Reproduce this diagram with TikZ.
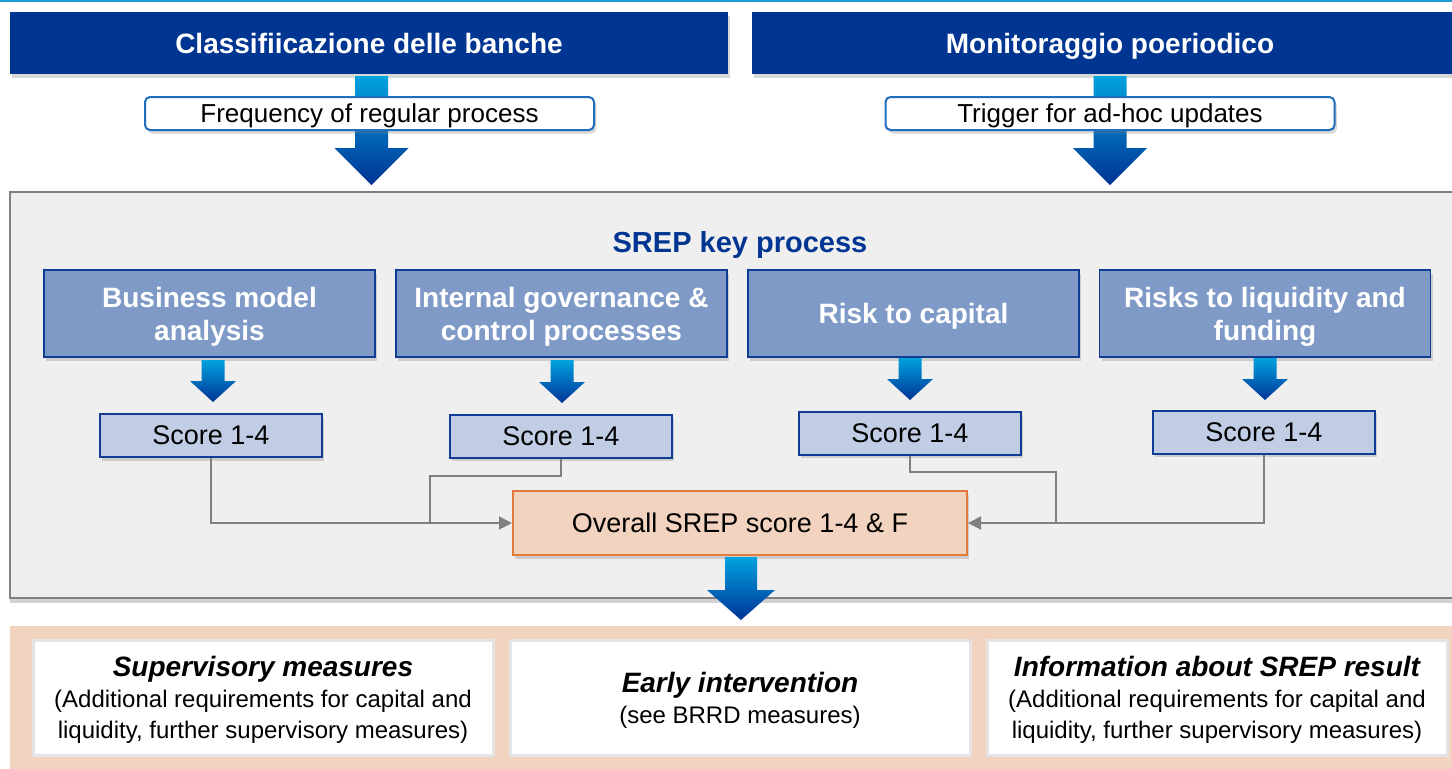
\documentclass[tikz,border=0pt]{standalone}
\usepackage{fontspec}
\setmainfont{Liberation Sans}
\usetikzlibrary{shadows,calc,arrows.meta}
\definecolor{hdrblue}{RGB}{0,53,145}
\definecolor{boxblue}{RGB}{127,154,199}
\definecolor{boxedge}{RGB}{16,60,150}
\definecolor{scorefill}{RGB}{192,205,229}
\definecolor{panelfill}{RGB}{239,239,239}
\definecolor{paneledge}{RGB}{128,128,128}
\definecolor{peach}{RGB}{242,211,191}
\definecolor{orangeedge}{RGB}{224,123,57}
\definecolor{conn}{RGB}{128,128,128}
\definecolor{topline}{RGB}{30,155,215}
\definecolor{arrtop}{RGB}{0,162,224}
\definecolor{arrbot}{RGB}{0,51,150}
\definecolor{freqedge}{RGB}{30,110,190}
\definecolor{wedge}{RGB}{228,228,228}
\tikzset{
  shad/.style={drop shadow={opacity=0.3,shadow xshift=1.2pt,shadow yshift=-1.8pt}},
  header/.style={fill=hdrblue,draw=none,text=white,font=\fontsize{14}{17}\selectfont\bfseries,shad,minimum height=31pt,inner sep=0pt,text depth=0pt},
  freqbox/.style={fill=white,draw=freqedge,line width=1pt,rounded corners=2.5pt,minimum width=224.5pt,minimum height=16.5pt,font=\fontsize{13}{15}\selectfont,inner sep=0pt,text depth=0pt,shad},
  keybox/.style={fill=boxblue,draw=boxedge,line width=0.6pt,text=white,font=\fontsize{14}{16.5}\selectfont\bfseries,align=center,minimum width=165.5pt,minimum height=43.5pt,inner sep=0pt,text depth=0pt,shad},
  scorebox/.style={fill=scorefill,draw=boxedge,line width=1pt,font=\fontsize{13.5}{16}\selectfont,minimum width=111pt,minimum height=21.5pt,inner sep=0pt,shad},
  overallbox/.style={fill=peach,draw=orangeedge,line width=1pt,font=\fontsize{13.5}{16}\selectfont,minimum width=227pt,minimum height=32pt,inner sep=0pt,shad},
  resultbox/.style={fill=white,draw=wedge,line width=1.5pt,font=\fontsize{12}{15.5}\selectfont,align=center,minimum width=230pt,minimum height=57.5pt,inner sep=0pt,text depth=0pt},
  conline/.style={draw=conn,line width=1pt},
  conarrow/.style={conline,-{Triangle[length=6.5pt,width=6.5pt]}},
  barrow/.style={top color=arrtop,bottom color=arrbot,draw=none}
}
% block arrow: center x, top y, head y, tip y, stem half width, head half width
\newcommand\blockarrow[6]{%
  \shade[barrow] (#1-#5,#2) -- (#1+#5,#2) -- (#1+#5,#3) -- (#1+#6,#3) -- (#1,#4) -- (#1-#6,#3) -- (#1-#5,#3) -- cycle;}
\begin{document}
\begin{tikzpicture}[x=0.5pt,y=-0.5pt]
\useasboundingbox (0,0) rectangle (1452,768);
\fill[white] (0,0) rectangle (1452,768);
\draw[topline,line width=1pt] (0,1) -- (1452,1);

% headers
\node[header,minimum width=359pt] (h1) at (369,43) {Classifiicazione delle banche};
\node[header,minimum width=358pt] (h2) at (1110,43) {Monitoraggio poeriodico};

% top arrows
\blockarrow{371.5}{76}{148}{185}{16.5}{37}
\blockarrow{1110}{76}{148}{185}{16.5}{37}
\node[freqbox] (f1) at (369.5,113.5) {Frequency of regular process};
\node[freqbox] (f2) at (1110,113.5) {Trigger for ad-hoc updates};

% SREP panel
\draw[fill=panelfill,draw=paneledge,line width=1pt,drop shadow={opacity=0.35,shadow xshift=0pt,shadow yshift=-2.5pt}] (10,192) rectangle (1480,598);
\node[text=hdrblue,font=\fontsize{14.5}{17}\selectfont\bfseries,text depth=0pt] (title) at (740,242) {SREP key process};

\node[keybox] (b1) at (209.5,313.5) {Business model\\analysis};
\node[keybox] (b2) at (561.5,313.5) {Internal governance \&\\control processes};
\node[keybox] (b3) at (913.5,313.5) {Risk to capital};
\node[keybox] (b4) at (1265,313.5) {Risks to liquidity and\\funding};

\blockarrow{213}{360}{381}{402}{11.5}{23}
\blockarrow{562}{360}{382}{403}{11.5}{23}
\blockarrow{910}{358}{379}{400}{11.5}{23}
\blockarrow{1265}{358}{379}{400}{11.5}{23}

\node[scorebox] (s1) at (211,435.5) {Score 1-4};
\node[scorebox] (s2) at (561,436) {Score 1-4};
\node[scorebox] (s3) at (910,433) {Score 1-4};
\node[scorebox] (s4) at (1264,432) {Score 1-4};

\node[overallbox] (ov) at (740,523) {Overall SREP score 1-4 \& F};

\coordinate (j1) at (430,522);
\coordinate (j2) at (1056,522);
\draw[conarrow] (s1.south) |- (ov.west);
\draw[conline] (s2.south) -- ++(0,17) -| (j1);
\draw[conline] (s3.south) -- ++(0,16) -| (j2);
\draw[conarrow] (s4.south) |- (ov.east);

\blockarrow{741}{557}{590}{620}{16}{34}

% results panel
\fill[peach] (10,626) rectangle (1480,780);
\node[resultbox] (r1) at (263,697.5) {{\fontsize{14}{17}\selectfont\bfseries\itshape Supervisory measures}\\(Additional requirements for capital and\\liquidity, further supervisory measures)};
\node[resultbox] (r2) at (740,697.5) {{\fontsize{14}{17}\selectfont\bfseries\itshape Early intervention}\\(see BRRD measures)};
\node[resultbox] (r3) at (1217,697.5) {{\fontsize{14}{17}\selectfont\bfseries\itshape Information about SREP result}\\(Additional requirements for capital and\\liquidity, further supervisory measures)};
\end{tikzpicture}
\end{document}
